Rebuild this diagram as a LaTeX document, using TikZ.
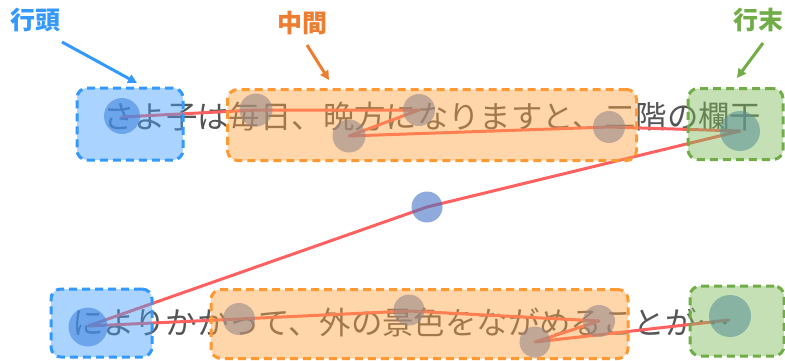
\documentclass[tikz,border=0pt]{standalone}
\usepackage{fontspec}
\newfontfamily\jp{Noto Sans CJK JP}
\usetikzlibrary{arrows.meta}
\definecolor{fixc}{RGB}{68,114,196}
\definecolor{sacc}{RGB}{255,96,96}
\definecolor{bfill}{RGB}{66,160,255}
\definecolor{bdraw}{RGB}{51,153,255}
\definecolor{ofill}{RGB}{255,164,66}
\definecolor{odraw}{RGB}{255,153,51}
\definecolor{gfill}{RGB}{127,187,89}
\definecolor{gdraw}{RGB}{112,173,71}
\definecolor{olab}{RGB}{237,125,49}
\definecolor{txt}{RGB}{85,85,85}
\tikzset{
  linetext/.style={anchor=west, inner sep=0pt, font=\jp\fontsize{31.4}{36}\selectfont, text=txt},
  fix/.style={circle, fill=fixc, fill opacity=0.6, draw=none, inner sep=0pt},
  sac/.style={draw=sacc, line width=3pt, line join=round, line cap=round},
  areabox/.style={rectangle, rounded corners=10pt, line width=3pt, dash pattern=on 8pt off 5pt, fill opacity=0.45, inner sep=0pt},
  headbox/.style={areabox, draw=bdraw, fill=bfill},
  midbox/.style={areabox, draw=odraw, fill=ofill},
  endbox/.style={areabox, draw=gdraw, fill=gfill},
  lab/.style={font=\jp\bfseries\fontsize{25}{28}\selectfont, inner sep=0pt},
  pointer/.style={line width=3pt, -{Triangle[length=9pt,width=9pt]}},
}
\begin{document}
\begin{tikzpicture}[x=1pt,y=-1pt]
\useasboundingbox (0,0) rectangle (785,360);
% text lines
\node[linetext] (t1) at (103,117) {さよ子は毎日、晩方になりますと、二階の欄干};
\node[linetext] (t2) at (72,322) {によりかかって、外の景色をながめることが\raisebox{0.3em}{…}};
% fixation positions
\coordinate (P1) at (122,117);
\coordinate (P2) at (256,110);
\coordinate (P3) at (349,136);
\coordinate (P4) at (419,110);
\coordinate (P5) at (609,127);
\coordinate (P6) at (740,131);
\coordinate (P7) at (427,207);
\coordinate (P8) at (88,326);
\coordinate (P9) at (239,319);
\coordinate (P10) at (409,311);
\coordinate (P11) at (599,321);
\coordinate (P12) at (535,342);
\coordinate (P13) at (729,320);
% saccades
\draw[sac] (P1) -- (P2) -- (P4) -- (P3) -- (P5) -- (P6) -- (P7) -- (P8) -- (P9) -- (P10) -- (P11) -- (P12) -- (P13);
% fixations
\node[fix, minimum size=36pt] (F1) at (122,116) {};
\node[fix, minimum size=33pt] (F2) at (256,110) {};
\node[fix, minimum size=33pt] (F3) at (349,136) {};
\node[fix, minimum size=32pt] (F4) at (419,110) {};
\node[fix, minimum size=32pt] (F5) at (609,127) {};
\node[fix, minimum size=40pt] (F6) at (740,131) {};
\node[fix, minimum size=31pt] (F7) at (427,207) {};
\node[fix, minimum size=39pt] (F8) at (88,327) {};
\node[fix, minimum size=32pt] (F9) at (239,319) {};
\node[fix, minimum size=31pt] (F10) at (409,310) {};
\node[fix, minimum size=32pt] (F11) at (599,321) {};
\node[fix, minimum size=31pt] (F12) at (535,342) {};
\node[fix, minimum size=42pt] (F13) at (730,316) {};
% area boxes
\node[headbox, minimum width=106pt, minimum height=72pt] (H1) at (130,124) {};
\node[midbox, minimum width=409pt, minimum height=71pt] (M1) at (432,125) {};
\node[endbox, minimum width=95pt, minimum height=71pt] (E1) at (735.5,124) {};
\node[headbox, minimum width=101pt, minimum height=68pt] (H2) at (101.5,323) {};
\node[midbox, minimum width=417pt, minimum height=69pt] (M2) at (419.5,324) {};
\node[endbox, minimum width=94pt, minimum height=70pt] (E2) at (737,321) {};
% labels
\node[lab, text=bdraw] (LH) at (35,20) {行頭};
\node[lab, text=olab] (LM) at (302,23) {中間};
\node[lab, text=gdraw] (LE) at (758,20) {行末};
\coordinate (AHs) at (62,42);
\coordinate (AHe) at (137,83);
\coordinate (AMs) at (307,45);
\coordinate (AMe) at (329,80);
\coordinate (AEs) at (763,43);
\coordinate (AEe) at (737,78);
\draw[pointer, draw=bdraw] (AHs) -- (AHe);
\draw[pointer, draw=olab] (AMs) -- (AMe);
\draw[pointer, draw=gdraw] (AEs) -- (AEe);
\end{tikzpicture}
\end{document}
